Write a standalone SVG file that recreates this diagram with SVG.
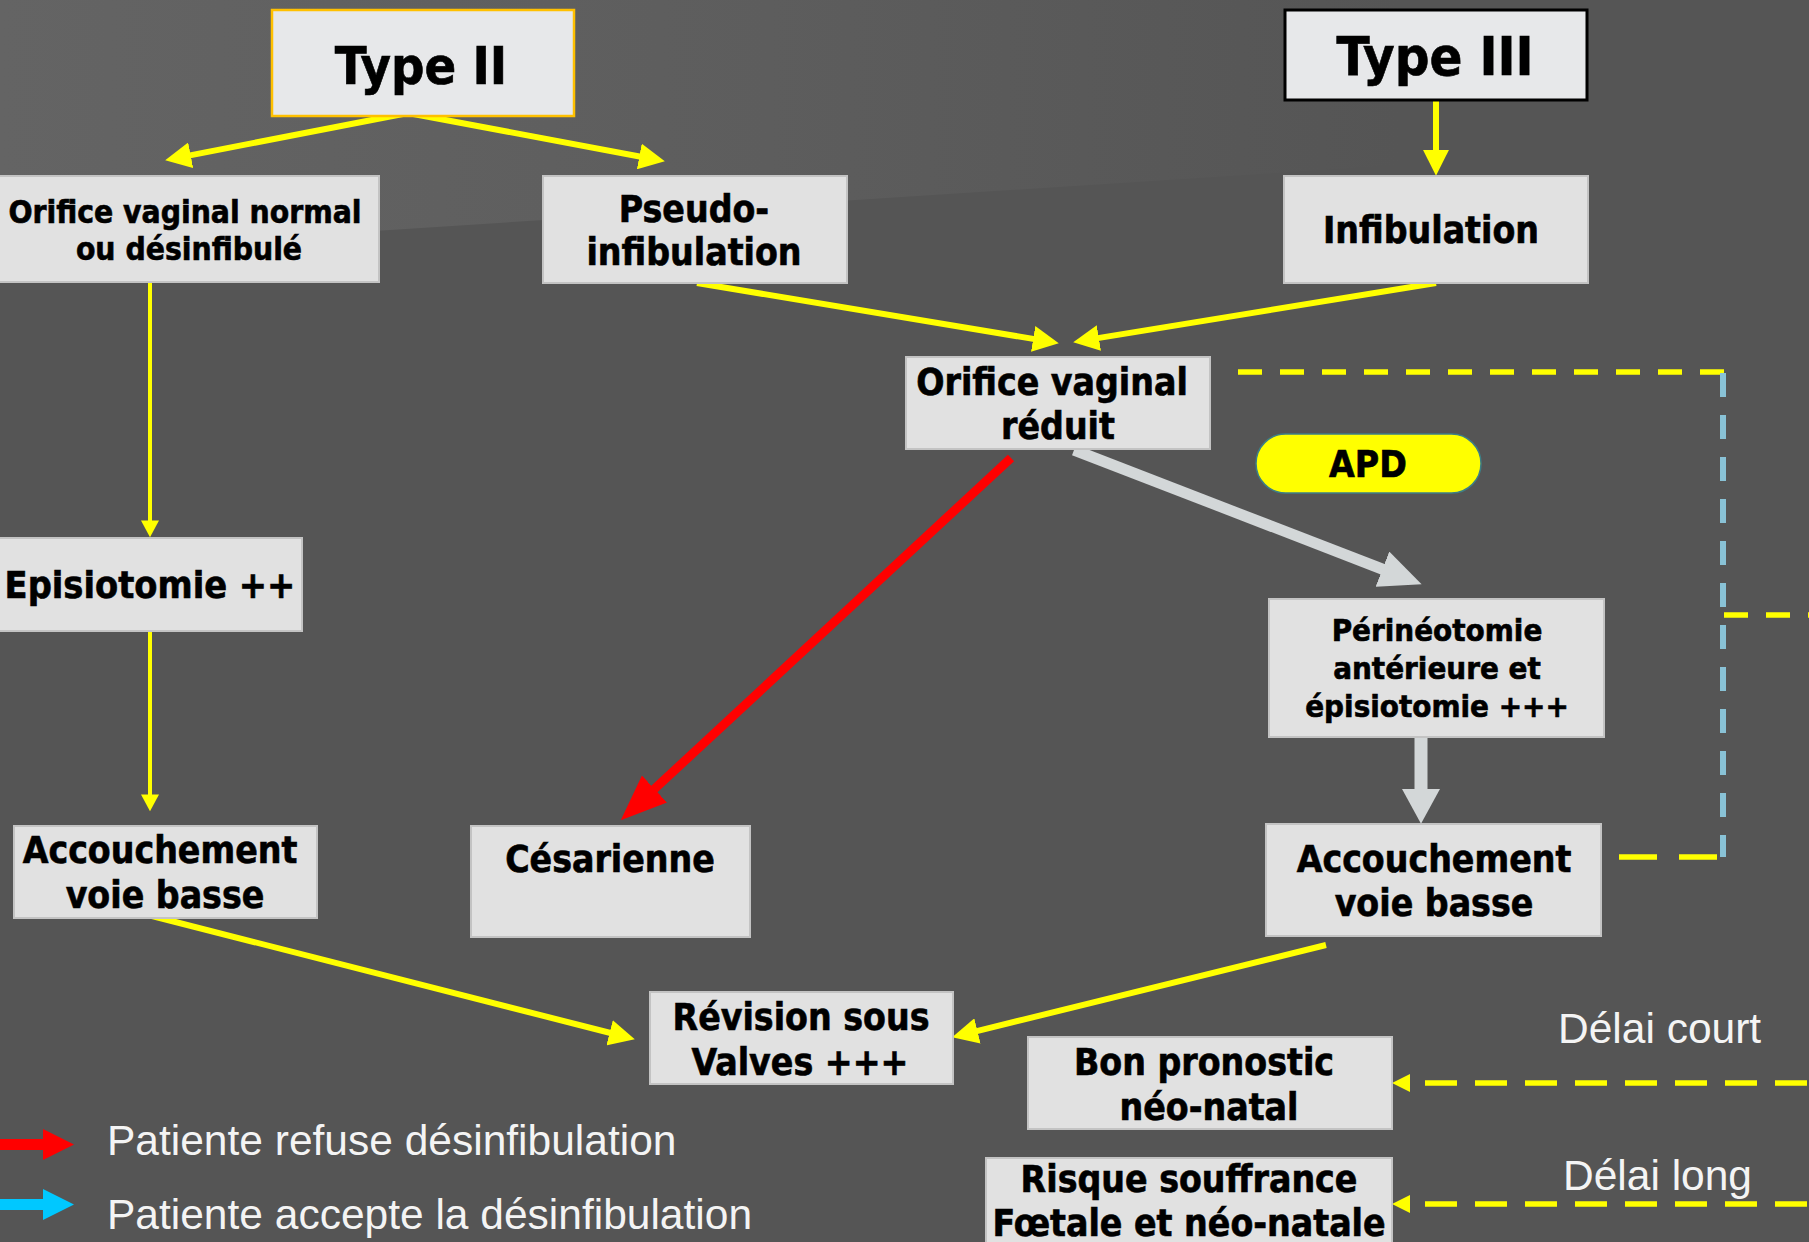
<svg xmlns="http://www.w3.org/2000/svg" width="1809" height="1242" viewBox="0 0 1809 1242">
<defs>
<style>
.box{fill:#e1e1e1;stroke:#c3c3c3;stroke-width:2}
.tbox{fill:#e7e8ea}
.t{font-family:"DejaVu Sans Condensed","DejaVu Sans",sans-serif;font-stretch:condensed;font-weight:bold;fill:#000;stroke:#000;stroke-width:0.6;text-anchor:middle}
.lg{font-family:"Liberation Sans",Arial,sans-serif;fill:#f4f4f4;font-size:42.5px}
.y{stroke:#ffff00;fill:none;stroke-width:6}
.yt{stroke:#ffff00;fill:none;stroke-width:4}
.yd{stroke:#ffff00;fill:none;stroke-width:5.5;stroke-dasharray:24 18}
.yd2{stroke:#ffff00;fill:none;stroke-width:5.5;stroke-dasharray:32 18}
.bd{stroke:#89c2d6;fill:none;stroke-width:6;stroke-dasharray:24 18}
.yh{fill:#ffff00}
</style>
<linearGradient id="bgl" x1="0" y1="0" x2="1" y2="0">
<stop offset="0" stop-color="#646464"/>
<stop offset="0.55" stop-color="#5d5d5d"/>
<stop offset="1" stop-color="#555555"/>
</linearGradient>
<marker id="ay" markerUnits="userSpaceOnUse" markerWidth="26" markerHeight="26" refX="14" refY="12" orient="auto" viewBox="0 0 24 24">
<path d="M0,0 L24,12 L0,24 Z" fill="#ffff00"/>
</marker>
<marker id="ayt" markerUnits="userSpaceOnUse" markerWidth="18" markerHeight="18" refX="10" refY="8.5" orient="auto" viewBox="0 0 16 17">
<path d="M0,0 L16,8.5 L0,17 Z" fill="#ffff00"/>
</marker>
<marker id="ar" markerUnits="userSpaceOnUse" markerWidth="46" markerHeight="38" refX="30" refY="18" orient="auto" viewBox="0 0 45 36">
<path d="M0,0 L45,18 L0,36 Z" fill="#ff0000"/>
</marker>
<marker id="ag" markerUnits="userSpaceOnUse" markerWidth="42" markerHeight="38" refX="26" refY="18" orient="auto" viewBox="0 0 40 36">
<path d="M0,0 L40,18 L0,36 Z" fill="#d3d7d8"/>
</marker>
<marker id="agv" markerUnits="userSpaceOnUse" markerWidth="35" markerHeight="38" refX="19" refY="18" orient="auto" viewBox="0 0 33 36">
<path d="M0,0 L33,18 L0,36 Z" fill="#d3d7d8"/>
</marker>
</defs>
<rect x="0" y="0" width="1809" height="1242" fill="#555555"/>
<polygon points="0,0 1400,0 1400,165 0,255" fill="url(#bgl)"/>

<g id="connectors">
<line class="y" x1="408" y1="113" x2="175.8" y2="158.1" marker-end="url(#ay)"/>
<line class="y" x1="408" y1="113" x2="654.2" y2="159.2" marker-end="url(#ay)"/>
<line class="y" x1="1436" y1="101" x2="1436" y2="165" marker-end="url(#ay)"/>
<line class="y" x1="697" y1="283" x2="1048.1" y2="341.4" marker-end="url(#ay)"/>
<line class="y" x1="1436" y1="283" x2="1083.9" y2="340.4" marker-end="url(#ay)"/>
<line class="yt" x1="150" y1="282" x2="150" y2="531" marker-end="url(#ayt)"/>
<line class="yt" x1="150" y1="631" x2="150" y2="805" marker-end="url(#ayt)"/>
<line class="y" x1="152" y1="916" x2="624.3" y2="1036.5" marker-end="url(#ay)"/>
<line class="y" x1="1326" y1="945" x2="962.7" y2="1034.6" marker-end="url(#ay)"/>
<line stroke="#ff0000" stroke-width="9" x1="1011" y1="458" x2="632" y2="809.8" marker-end="url(#ar)"/>
<line stroke="#d3d7d8" stroke-width="11" x1="1074" y1="450" x2="1407.9" y2="579" marker-end="url(#ag)"/>
<line stroke="#d3d7d8" stroke-width="13" x1="1421" y1="737" x2="1421" y2="809" marker-end="url(#agv)"/>
<line class="yd" x1="1238" y1="372" x2="1724" y2="372"/>
<line class="bd" x1="1723" y1="373" x2="1723" y2="857"/>
<line class="yd" x1="1724" y1="615" x2="1809" y2="615"/>
<line class="yd" style="stroke-dasharray:38 22" x1="1619" y1="857" x2="1724" y2="857"/>
<line class="yd2" x1="1425" y1="1083" x2="1809" y2="1083"/>
<polygon class="yh" points="1392,1083 1410,1074 1410,1092"/>
<line class="yd2" x1="1425" y1="1204" x2="1809" y2="1204"/>
<polygon class="yh" points="1392,1204 1410,1195 1410,1213"/>
</g>

<g id="type2">
<rect class="tbox" x="272" y="10" width="302" height="106" stroke="#ffc000" stroke-width="2.5"/>
<text class="t" x="421" y="84" font-size="52">Type II</text>
</g>
<g id="type3">
<rect class="tbox" x="1285" y="10" width="302" height="90" stroke="#000" stroke-width="3"/>
<text class="t" x="1435" y="75" font-size="54">Type III</text>
</g>
<g id="orifice-normal">
<rect class="box" x="-2" y="176" width="381" height="106"/>
<text class="t" x="185" y="223" font-size="31.5">Orifice vaginal normal</text>
<text class="t" x="189" y="260" font-size="31.5">ou désinfibulé</text>
</g>
<g id="pseudo">
<rect class="box" x="543" y="176" width="304" height="107"/>
<text class="t" x="694" y="222" font-size="37">Pseudo-</text>
<text class="t" x="694" y="265" font-size="37">infibulation</text>
</g>
<g id="infibulation">
<rect class="box" x="1284" y="176" width="304" height="107"/>
<text class="t" x="1431" y="243" font-size="37">Infibulation</text>
</g>
<g id="orifice-reduit">
<rect class="box" x="906" y="357" width="304" height="92"/>
<text class="t" x="1052" y="395" font-size="37">Orifice vaginal</text>
<text class="t" x="1058" y="439" font-size="37">réduit</text>
</g>
<g id="apd">
<rect x="1256" y="434" width="225" height="59" rx="29.5" fill="#ffff00" stroke="#3d7f86" stroke-width="1.5"/>
<text class="t" x="1368" y="477" font-size="37">APD</text>
</g>
<g id="episiotomie">
<rect class="box" x="-2" y="538" width="304" height="93"/>
<text class="t" x="150" y="598" font-size="37.5">Episiotomie ++</text>
</g>
<g id="perineotomie">
<rect class="box" x="1269" y="599" width="335" height="138"/>
<text class="t" x="1437" y="641" font-size="31">Périnéotomie</text>
<text class="t" x="1437" y="679" font-size="31">antérieure et</text>
<text class="t" x="1437" y="717" font-size="31">épisiotomie +++</text>
</g>
<g id="accouchement-gauche">
<rect class="box" x="14" y="826" width="303" height="92"/>
<text class="t" x="160" y="863" font-size="37">Accouchement</text>
<text class="t" x="165" y="908" font-size="37">voie basse</text>
</g>
<g id="cesarienne">
<rect class="box" x="471" y="826" width="279" height="111"/>
<text class="t" x="610" y="872" font-size="37">Césarienne</text>
</g>
<g id="accouchement-droite">
<rect class="box" x="1266" y="824" width="335" height="112"/>
<text class="t" x="1434" y="872" font-size="37">Accouchement</text>
<text class="t" x="1434" y="916" font-size="37">voie basse</text>
</g>
<g id="revision">
<rect class="box" x="650" y="992" width="303" height="92"/>
<text class="t" x="801" y="1030" font-size="37">Révision sous</text>
<text class="t" x="800" y="1075" font-size="37">Valves +++</text>
</g>
<g id="bon-pronostic">
<rect class="box" x="1028" y="1037" width="364" height="92"/>
<text class="t" x="1204" y="1075" font-size="37">Bon pronostic</text>
<text class="t" x="1209" y="1120" font-size="37">néo-natal</text>
</g>
<g id="risque">
<rect class="box" x="986" y="1158" width="406" height="96"/>
<text class="t" x="1189" y="1192" font-size="37">Risque souffrance</text>
<text class="t" x="1189" y="1236" font-size="37">Fœtale et néo-natale</text>
</g>
<g id="delais">
<text class="lg" x="1558" y="1043">Délai court</text>
<text class="lg" x="1563" y="1190">Délai long</text>
</g>
<g id="legende">
<polygon points="0,1139 43,1139 43,1129 74,1144.5 43,1160 43,1150 0,1150" fill="#ff0000"/>
<text class="lg" x="107" y="1155">Patiente refuse désinfibulation</text>
<polygon points="0,1199 43,1199 43,1189 74,1204.5 43,1220 43,1210 0,1210" fill="#00c8ff"/>
<text class="lg" x="107" y="1229">Patiente accepte la désinfibulation</text>
</g>
</svg>
